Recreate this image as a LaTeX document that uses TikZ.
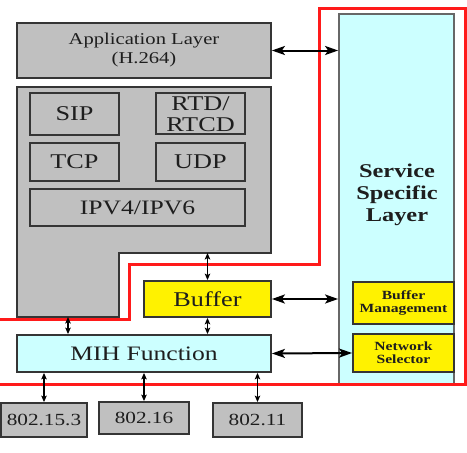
\documentclass[tikz,border=0pt]{standalone}
\usepackage{fontspec}
\setmainfont{Liberation Serif}[FakeStretch=1.25]
\usetikzlibrary{arrows.meta}
\definecolor{boxgray}{HTML}{C0C0C0}
\definecolor{lcyan}{HTML}{CCFFFF}
\definecolor{edge}{HTML}{353535}
\definecolor{ink}{HTML}{1E1E1E}
\definecolor{redline}{HTML}{FF1A1A}
\tikzset{
  box/.style={draw=edge, line width=1.8pt, rectangle, inner sep=0pt, text=ink, align=center},
  graybox/.style={box, fill=boxgray},
  cyanbox/.style={box, fill=lcyan},
  yelbox/.style={box, fill=yellow},
  harrow/.style={line width=2pt, {Stealth[length=13pt,width=9pt,inset=3pt]}-{Stealth[length=13pt,width=9pt,inset=3pt]}},
  varrow/.style={line width=1.2pt, {Stealth[length=6.5pt,width=5.5pt,inset=1.5pt]}-{Stealth[length=6.5pt,width=5.5pt,inset=1.5pt]}}
}
\begin{document}
\begin{tikzpicture}[x=1pt,y=-1pt]
\useasboundingbox (0,0) rectangle (467,453);
% Application layer
\node[graybox, minimum width=254pt, minimum height=55pt, font=\fontsize{16.5}{19}\selectfont] (app) at (144,50.5) {Application Layer\\(H.264)};
% Protocol stack (L-shaped)
\draw[draw=edge, line width=1.8pt, fill=boxgray] (17,87) -- (271,87) -- (271,253) -- (119,253) -- (119,317) -- (17,317) -- cycle;
\coordinate (stackB) at (207.5,253);
\coordinate (stackL) at (68,317);
\node[graybox, minimum width=89pt, minimum height=42pt, font=\fontsize{21}{21}\selectfont] (sip) at (74.5,114) {SIP};
\node[graybox, minimum width=89pt, minimum height=41pt] (rtd) at (200.5,113.5) {};
\node[text=ink, align=center, font=\fontsize{21}{21}\selectfont] (rtdt) at (200.5,114) {RTD/\\RTCD};
\node[graybox, minimum width=89pt, minimum height=38pt, font=\fontsize{21}{21}\selectfont] (tcp) at (74.5,162) {TCP};
\node[graybox, minimum width=89pt, minimum height=38pt, font=\fontsize{21}{21}\selectfont] (udp) at (200.5,162) {UDP};
\node[graybox, minimum width=215pt, minimum height=37pt, font=\fontsize{20.5}{21}\selectfont] (ip) at (137.5,207.5) {IPV4/IPV6};
% Service specific layer
\node[cyanbox, draw=edge!75, minimum width=115pt, minimum height=371pt] (ssl) at (396.5,199.5) {};
\node[text=ink, align=center, font=\fontsize{19.5}{21.7}\selectfont\bfseries] (sslt) at (397,195) {Service\\Specific\\Layer};
\node[yelbox, minimum width=101pt, minimum height=42pt, font=\fontsize{12.5}{13}\selectfont\bfseries] (bm) at (403.5,303) {Buffer\\Management};
\node[yelbox, minimum width=101pt, minimum height=38pt, font=\fontsize{12.5}{13}\selectfont\bfseries] (ns) at (403.5,353) {Network\\Selector};
% Buffer and MIH
\node[yelbox, minimum width=127pt, minimum height=36pt, font=\fontsize{21}{21}\selectfont] (buf) at (207.5,299) {Buffer};
\node[cyanbox, minimum width=254pt, minimum height=37pt, font=\fontsize{20.5}{21}\selectfont] (mih) at (144,353.5) {MIH Function};
% Access networks
\node[graybox, minimum width=86pt, minimum height=34pt, font=\fontsize{17}{17}\selectfont] (n1) at (44,420) {802.15.3};
\node[graybox, minimum width=90pt, minimum height=32pt, font=\fontsize{17}{17}\selectfont] (n2) at (144,418) {802.16};
\node[graybox, minimum width=89pt, minimum height=34pt, font=\fontsize{17}{17}\selectfont] (n3) at (257.5,420) {802.11};
% Red boundary
\draw[redline, line width=3pt, line join=miter] (0,319) -- (129,319) -- (129,264) -- (319,264) -- (319,8) -- (465,8) -- (465,384) -- (0,384);
% Connectors
\draw[harrow] (app.east) -- (app.east -| ssl.west);
\draw[harrow] (buf.east) -- (buf.east -| ssl.west);
\draw[harrow] (mih.east) -- (ns.west);
\draw[varrow] (stackB) -- (buf.north);
\draw[varrow] (buf.south) -- (buf.south |- mih.north);
\draw[varrow] (stackL) -- (stackL |- mih.north);
\draw[varrow] (n1.north) -- (n1.north |- mih.south);
\draw[varrow] (n2.north) -- (n2.north |- mih.south);
\draw[varrow] (n3.north) -- (n3.north |- mih.south);
\end{tikzpicture}
\end{document}
